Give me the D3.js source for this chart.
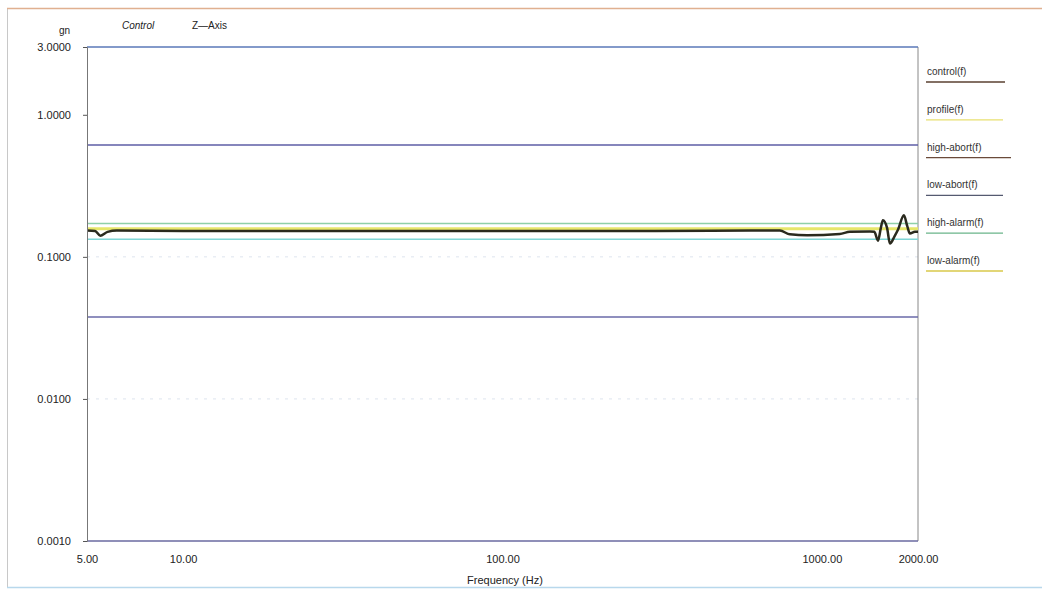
<!DOCTYPE html>
<html><head><meta charset="utf-8">
<script src="https://cdn.jsdelivr.net/npm/d3@7"></script>
<style>body{margin:0;background:#fff;}svg{display:block;font-family:Arial,"Liberation Sans",sans-serif;}</style>
</head><body><svg id="c" width="1042" height="590"></svg>
<script>
// ---- data ----
const yTicks = [3, 1, 0.1, 0.01, 0.001];
const yTickLabels = ["3.0000", "1.0000", "0.1000", "0.0100", "0.0010"];
const xTicks = [5, 10, 100, 1000, 2000];
const xTickLabels = ["5.00", "10.00", "100.00", "1000.00", "2000.00"];
const controlFreq = [5, 5.3, 5.5, 5.8, 6.2, 10, 50, 100, 300, 600, 739, 794, 900, 1138, 1224, 1414, 1460, 1499, 1530, 1553, 1600, 1634, 1690, 1731, 1807, 1850, 1887, 1956, 2000];
const controlVal = [0.153, 0.152, 0.141, 0.150, 0.153, 0.152, 0.152, 0.152, 0.152, 0.153, 0.153, 0.144, 0.142, 0.145, 0.150, 0.151, 0.150, 0.130, 0.160, 0.181, 0.160, 0.124, 0.140, 0.155, 0.196, 0.165, 0.146, 0.150, 0.150];
const refNames = ["profile", "high-alarm", "low-alarm", "high-abort", "low-abort", "top"];
const refValues = [0.158, 0.172, 0.133, 0.613, 0.0378, 3.0];
const legendLabels = ["control(f)", "profile(f)", "high-abort(f)", "low-abort(f)", "high-alarm(f)", "low-alarm(f)"];

// ---- styles ----
const refColors = {"profile":"#e6e66a","high-alarm":"#8fd0a8","low-alarm":"#7fd6d6","high-abort":"#5e5ea6","low-abort":"#6a6aa8","top":"#5a78b8"};
const refWidths = {"profile":3,"high-alarm":1.5,"low-alarm":1.5,"high-abort":1.5,"low-abort":1.5,"top":1.5};
const legendColors = ["#5a4030","#e8e070","#6a4a3a","#555a70","#6ab48a","#d8c84a"];

const svg = d3.select("#c");
const L = 87, R = 918, T = 47, B = 541;
const x = d3.scaleLog().domain([5, 2000]).range([L, R]);
const y = d3.scaleLog().domain([0.001, 3]).range([B, T]);

// outer frame
svg.append("rect").attr("x",7.5).attr("y",8.5).attr("width",1040).attr("height",579)
  .attr("fill","none").attr("stroke","#c8c8c8");
svg.append("line").attr("x1",7).attr("x2",1042).attr("y1",8.5).attr("y2",8.5).attr("stroke","#e0b090").attr("stroke-width",1.5);
svg.append("line").attr("x1",7).attr("x2",1042).attr("y1",587.5).attr("y2",587.5).attr("stroke","#b8d8ec").attr("stroke-width",1.5);

// faint grid
svg.append("g").selectAll("line").data([0.1, 0.01]).join("line")
  .attr("x1",L).attr("x2",R).attr("y1",d=>y(d)).attr("y2",d=>y(d))
  .attr("stroke","#dde4ee").attr("stroke-dasharray","3,6");

// plot frame
svg.append("line").attr("x1",R).attr("x2",R).attr("y1",T).attr("y2",B).attr("stroke","#888");
svg.append("line").attr("x1",L).attr("x2",R).attr("y1",B).attr("y2",B).attr("stroke","#6a6aa0").attr("stroke-width",1.5);

// reference lines
svg.append("g").selectAll("line").data(refNames).join("line")
  .attr("x1",L).attr("x2",R)
  .attr("y1",(d,i)=>y(refValues[i])).attr("y2",(d,i)=>y(refValues[i]))
  .attr("stroke",d=>refColors[d]).attr("stroke-width",d=>refWidths[d]);

// control line
const ctrl = controlFreq.map((f,i)=>[f, controlVal[i]]);
svg.append("path").datum(ctrl)
  .attr("d", d3.line().x(d=>x(d[0])).y(d=>y(d[1])).curve(d3.curveMonotoneX))
  .attr("fill","none").attr("stroke","#2a2a1e").attr("stroke-width",2.5);

// y axis
const yAxis = d3.axisLeft(y).tickValues(yTicks).tickFormat((d,i)=>yTickLabels[i]).tickSize(4).tickPadding(12);
const ga = svg.append("g").attr("transform",`translate(${L},0)`).call(yAxis);
ga.select(".domain").attr("stroke","#777");
ga.selectAll("line").attr("stroke","#555");
ga.selectAll("text").attr("font-size",11).attr("fill","#222");

// x axis
const xAxis = d3.axisBottom(x).tickValues(xTicks).tickFormat((d,i)=>xTickLabels[i]).tickSize(0).tickPadding(14);
const gx = svg.append("g").attr("transform",`translate(0,${B})`).call(xAxis);
gx.select(".domain").remove();
gx.selectAll("text").attr("font-size",11).attr("fill","#222");

svg.append("text").attr("x",505).attr("y",584).attr("text-anchor","middle").attr("font-size",11).attr("fill","#222").text("Frequency (Hz)");
svg.append("text").attr("x",70).attr("y",34).attr("text-anchor","end").attr("font-size",10).attr("fill","#222").text("gn");
svg.append("text").attr("x",122).attr("y",29).attr("font-size",10).attr("fill","#222").attr("font-style","italic").text("Control");
svg.append("text").attr("x",192).attr("y",29).attr("font-size",10).attr("fill","#222").text("Z—Axis");

// legend
const lg = svg.append("g").selectAll("g").data(legendLabels).join("g")
  .attr("transform",(d,i)=>`translate(927,${75 + i*37.8})`);
lg.append("text").attr("font-size",10).attr("fill","#333").text(d=>d);
lg.append("line").attr("x1",-1).attr("x2",(d,i)=> i===0?78:(i===2?84:76)).attr("y1",7).attr("y2",7)
  .attr("stroke",(d,i)=>legendColors[i]).attr("stroke-width",1.3);
</script></body></html>
